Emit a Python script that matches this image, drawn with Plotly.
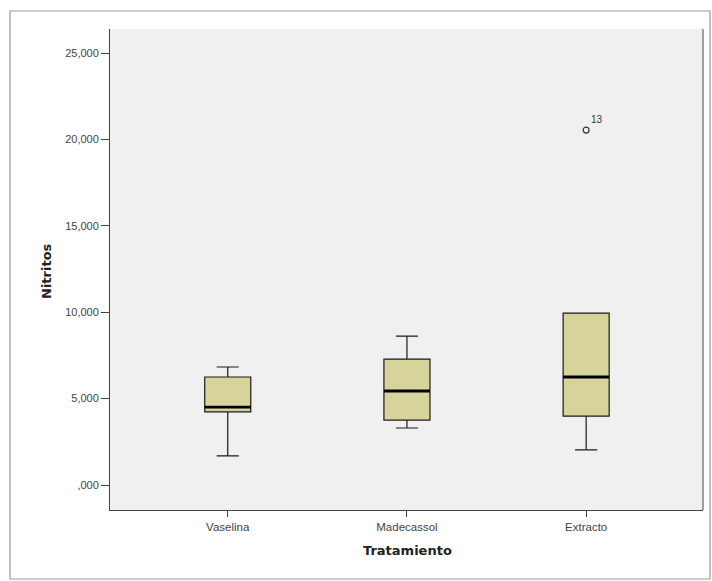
import plotly.graph_objects as go

# ---- data ----
categories = ["Vaselina", "Madecassol", "Extracto"]
lower_whisker = [1.68, 3.30, 2.03]
q1_values = [4.23, 3.76, 3.99]
medians = [4.51, 5.44, 6.25]
q3_values = [6.25, 7.29, 9.95]
upper_whisker = [6.83, 8.62, 9.95]
outlier_category = [2]
outlier_values = [20.54]
outlier_labels = ["13"]
y_tick_values = [0, 5, 10, 15, 20, 25]

def fmt(v):
    s = f"{v:.3f}".replace(".", ",")
    if s.startswith("0,"):
        s = s[1:]
    return s

y_tick_text = [fmt(v) for v in y_tick_values]

# ---- layout constants (pixels) ----
W, H = 712, 581
L, R, T, B = 110, 9, 29, 71
pw, ph = W - L - R, H - T - B
box_w = 0.257
box_fill = "#D6D49B"
line_col = "#1a1a1a"

xs = list(range(len(categories)))

fig = go.Figure()
fig.add_trace(go.Box(
    x=xs, q1=q1_values, median=medians, q3=q3_values,
    lowerfence=lower_whisker, upperfence=upper_whisker,
    width=box_w, whiskerwidth=0.48,
    fillcolor=box_fill, line=dict(color=line_col, width=1.2),
    boxpoints=False, showlegend=False, hoverinfo="skip",
))

# thicker median lines
mx, my = [], []
for i, m in zip(xs, medians):
    mx += [i - box_w / 2, i + box_w / 2, None]
    my += [m, m, None]
fig.add_trace(go.Scatter(x=mx, y=my, mode="lines",
                         line=dict(color="#000000", width=2.8),
                         showlegend=False, hoverinfo="skip"))

# outliers
fig.add_trace(go.Scatter(
    x=outlier_category, y=outlier_values, mode="markers+text",
    marker=dict(symbol="circle-open", size=6, color="#333333", line=dict(width=1.2)),
    text=outlier_labels, textposition="top right",
    textfont=dict(family="Liberation Sans, Arial, sans-serif", size=10, color="#333333"),
    showlegend=False, hoverinfo="skip",
))

# frame around the whole chart (pixel positions converted to paper coords)
def px_x(p):
    return (p - L) / pw

def px_y(p):
    return (H - B - p) / ph

shapes = [
    dict(type="rect", xref="paper", yref="paper",
         x0=px_x(10), x1=px_x(710), y0=px_y(579), y1=px_y(11),
         line=dict(color="#9a9a9a", width=1.2), layer="below"),
    dict(type="line", xref="paper", yref="paper",
         x0=1, x1=1, y0=0, y1=1,
         line=dict(color="#444444", width=1)),
]

font_family = "Liberation Sans, Arial, sans-serif"
title_family = "DejaVu Sans, Verdana, sans-serif"

fig.update_layout(
    width=W, height=H,
    margin=dict(l=L, r=R, t=T, b=B),
    paper_bgcolor="white",
    plot_bgcolor="#F0F0F0",
    shapes=shapes,
    font=dict(family=font_family, color="#333333"),
    annotations=[
        dict(text="<b>Nitritos</b>", xref="paper", yref="paper",
             x=px_x(46), y=px_y(271), textangle=-90, showarrow=False,
             font=dict(family=title_family, size=13, color="#222222"),
             xanchor="center", yanchor="middle"),
        dict(text="<b>Tratamiento</b>", xref="paper", yref="paper",
             x=px_x(407), y=px_y(550), showarrow=False,
             font=dict(family=title_family, size=13, color="#222222"),
             xanchor="center", yanchor="middle"),
    ],
)

fig.update_xaxes(
    range=[-0.657, 2.652], tickvals=xs, ticktext=categories,
    showgrid=False, zeroline=False, showline=True, linecolor="#444444", linewidth=1,
    ticks="outside", ticklen=6, tickcolor="#444444",
    tickfont=dict(family=font_family, size=11.5, color="#444444"),
)
fig.update_yaxes(
    range=[-1.447, 26.39], tickvals=y_tick_values, ticktext=y_tick_text,
    showgrid=False, zeroline=False, showline=True, linecolor="#444444", linewidth=1,
    ticks="outside", ticklen=8, tickcolor="#444444",
    tickfont=dict(family=font_family, size=11, color="#444444"),
)

fig.write_html("out.html", config={"displayModeBar": False},
               post_script="document.body.style.margin='0px';")
